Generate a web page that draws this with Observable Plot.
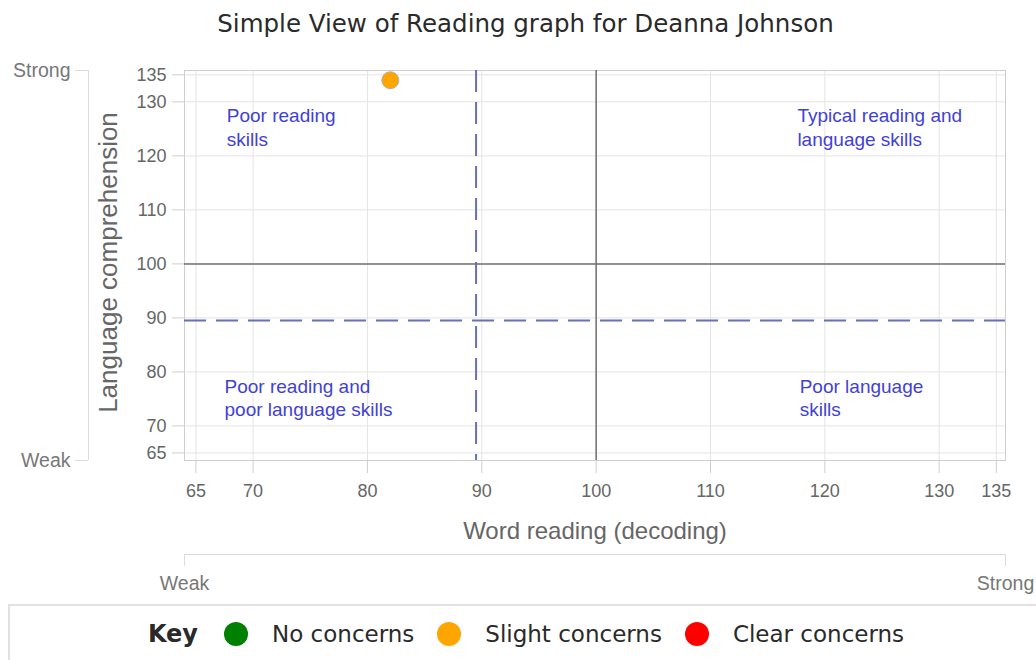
<!DOCTYPE html>
<html><head><meta charset="utf-8">
<script src="https://cdn.jsdelivr.net/npm/d3@7"></script>
<script src="https://cdn.jsdelivr.net/npm/@observablehq/plot@0.6"></script>
<style>
body{margin:0;background:#fff;width:1036px;height:660px;overflow:hidden;position:relative;font-family:"DejaVu Sans",sans-serif}
#title{position:absolute;top:0;left:0;width:1051px;height:47px;text-align:center;font-size:24.5px;line-height:47px;color:#2a2a2a}
#chart{position:absolute;top:48px;left:0}
#key{position:absolute;left:8px;top:604px;width:1036px;height:64px;border:2px solid #dfe1e3;box-sizing:border-box;display:flex;justify-content:center;align-items:center;padding-bottom:4px;font-size:23px;color:#2a2a2a}
#key .k{font-weight:bold;font-size:24px;margin-right:26px}
#key .dot{width:24px;height:24px;border-radius:50%;display:inline-block;margin-right:24px}
#key .lab{margin-right:23px}
#key .lab:last-child{margin-right:0}
</style></head><body>
<div id="title">Simple View of Reading graph for Deanna Johnson</div>
<div id="chart"></div>
<div id="key"></div>
<script>
// Data
const students = ["Deanna Johnson"];
const wordReading = [82];
const languageComp = [134];
const concernLevel = ["Slight concerns"];
const xTicks = [65, 70, 80, 90, 100, 110, 120, 130, 135];
const yTicks = [65, 70, 80, 90, 100, 110, 120, 130, 135];
const xDomain = [64, 135.8];
const yDomain = [63.6, 135.8];
const cutoff = 89.5;
const average = 100;
const quadrantNames = ["Poor reading\nskills", "Typical reading and\nlanguage skills", "Poor reading and\npoor language skills", "Poor language\nskills"];
const quadrantX = [67.7, 117.6, 67.5, 117.8];
const quadrantY = [125.5, 125.5, 75.35, 75.35];
const keyLabels = ["No concerns", "Slight concerns", "Clear concerns"];
const keyColors = ["#008000", "#FFA500", "#FF0000"];
const scaleLabels = ["Weak", "Strong"];
const xTitle = "Word reading (decoding)";
const yTitle = "Language comprehension";

const points = students.map((s, i) => ({name: s, x: wordReading[i], y: languageComp[i], level: concernLevel[i]}));
const quads = quadrantNames.map((t, i) => ({text: t, x: quadrantX[i], y: quadrantY[i]}));
const yFmt = d => d === yDomain[0] ? scaleLabels[0] : scaleLabels[1];
const xFmt = d => d === xDomain[0] ? scaleLabels[0] : scaleLabels[1];

const plot = Plot.plot({
  width: 1036, height: 552,
  marginTop: 22, marginBottom: 140, marginLeft: 184, marginRight: 31,
  style: {fontFamily: '"Liberation Sans", Arial, sans-serif', background: "#fff", overflow: "visible"},
  x: {domain: xDomain},
  y: {domain: yDomain},
  color: {domain: keyLabels, range: keyColors},
  marks: [
    Plot.gridX(xTicks, {stroke: "#e4e4e4", strokeOpacity: 1}),
    Plot.gridY(yTicks, {stroke: "#e4e4e4", strokeOpacity: 1}),
    Plot.frame({stroke: "#cfcfcf"}),
    Plot.ruleX([average], {stroke: "#707070", strokeWidth: 1.5}),
    Plot.ruleY([average], {stroke: "#707070", strokeWidth: 1.5}),
    Plot.ruleX([cutoff], {stroke: "#6670b4", strokeWidth: 2, strokeDasharray: "22,10"}),
    Plot.ruleY([cutoff], {stroke: "#6670b4", strokeWidth: 2, strokeDasharray: "22,10"}),
    Plot.text(quads, {x: "x", y: "y", text: "text", textAnchor: "start", lineAnchor: "middle", fill: "#4141d6", fontSize: 19, lineHeight: 1.25}),
    Plot.dot(points, {x: "x", y: "y", fill: "level", r: 8.5, stroke: "#b0b0b0", strokeWidth: 1}),
    // main axes
    Plot.axisX(xTicks, {tickSize: 13, tickPadding: 11, stroke: "#cfcfcf", fill: "#666", fontSize: 18, label: null}),
    Plot.axisY(yTicks, {tickSize: 12, tickPadding: 6, stroke: "#cfcfcf", fill: "#666", fontSize: 18, label: null}),
    Plot.text([xTitle], {frameAnchor: "bottom", dy: 78, fontSize: 24, fill: "#666"}),
    Plot.text([yTitle], {frameAnchor: "left", textAnchor: "middle", dx: -76, dy: -3, rotate: -90, fontSize: 26, fill: "#666"}),
    // Weak / Strong brackets
    Plot.ruleX([xDomain[0]], {y1: yDomain[0], y2: yDomain[1], dx: -96, stroke: "#dcdcdc"}),
    Plot.axisY(yDomain, {dx: -96, tickSize: 13, tickPadding: 5, tickFormat: yFmt, stroke: "#dcdcdc", fill: "#777", fontSize: 19.5, label: null}),
    Plot.ruleY([yDomain[0]], {x1: xDomain[0], x2: xDomain[1], dy: 94, stroke: "#dcdcdc"}),
    Plot.axisX(xDomain, {dy: 94, tickSize: 12, tickPadding: 10, tickFormat: xFmt, stroke: "#dcdcdc", fill: "#777", fontSize: 19.5, label: null})
  ]
});
document.getElementById("chart").appendChild(plot);

// Key (legend)
const key = document.getElementById("key");
const k = document.createElement("span"); k.className = "k"; k.textContent = "Key"; key.appendChild(k);
keyLabels.forEach((l, i) => {
  const d = document.createElement("span"); d.className = "dot"; d.style.background = keyColors[i]; key.appendChild(d);
  const s = document.createElement("span"); s.className = "lab"; s.textContent = l; key.appendChild(s);
});
</script>
</body></html>
